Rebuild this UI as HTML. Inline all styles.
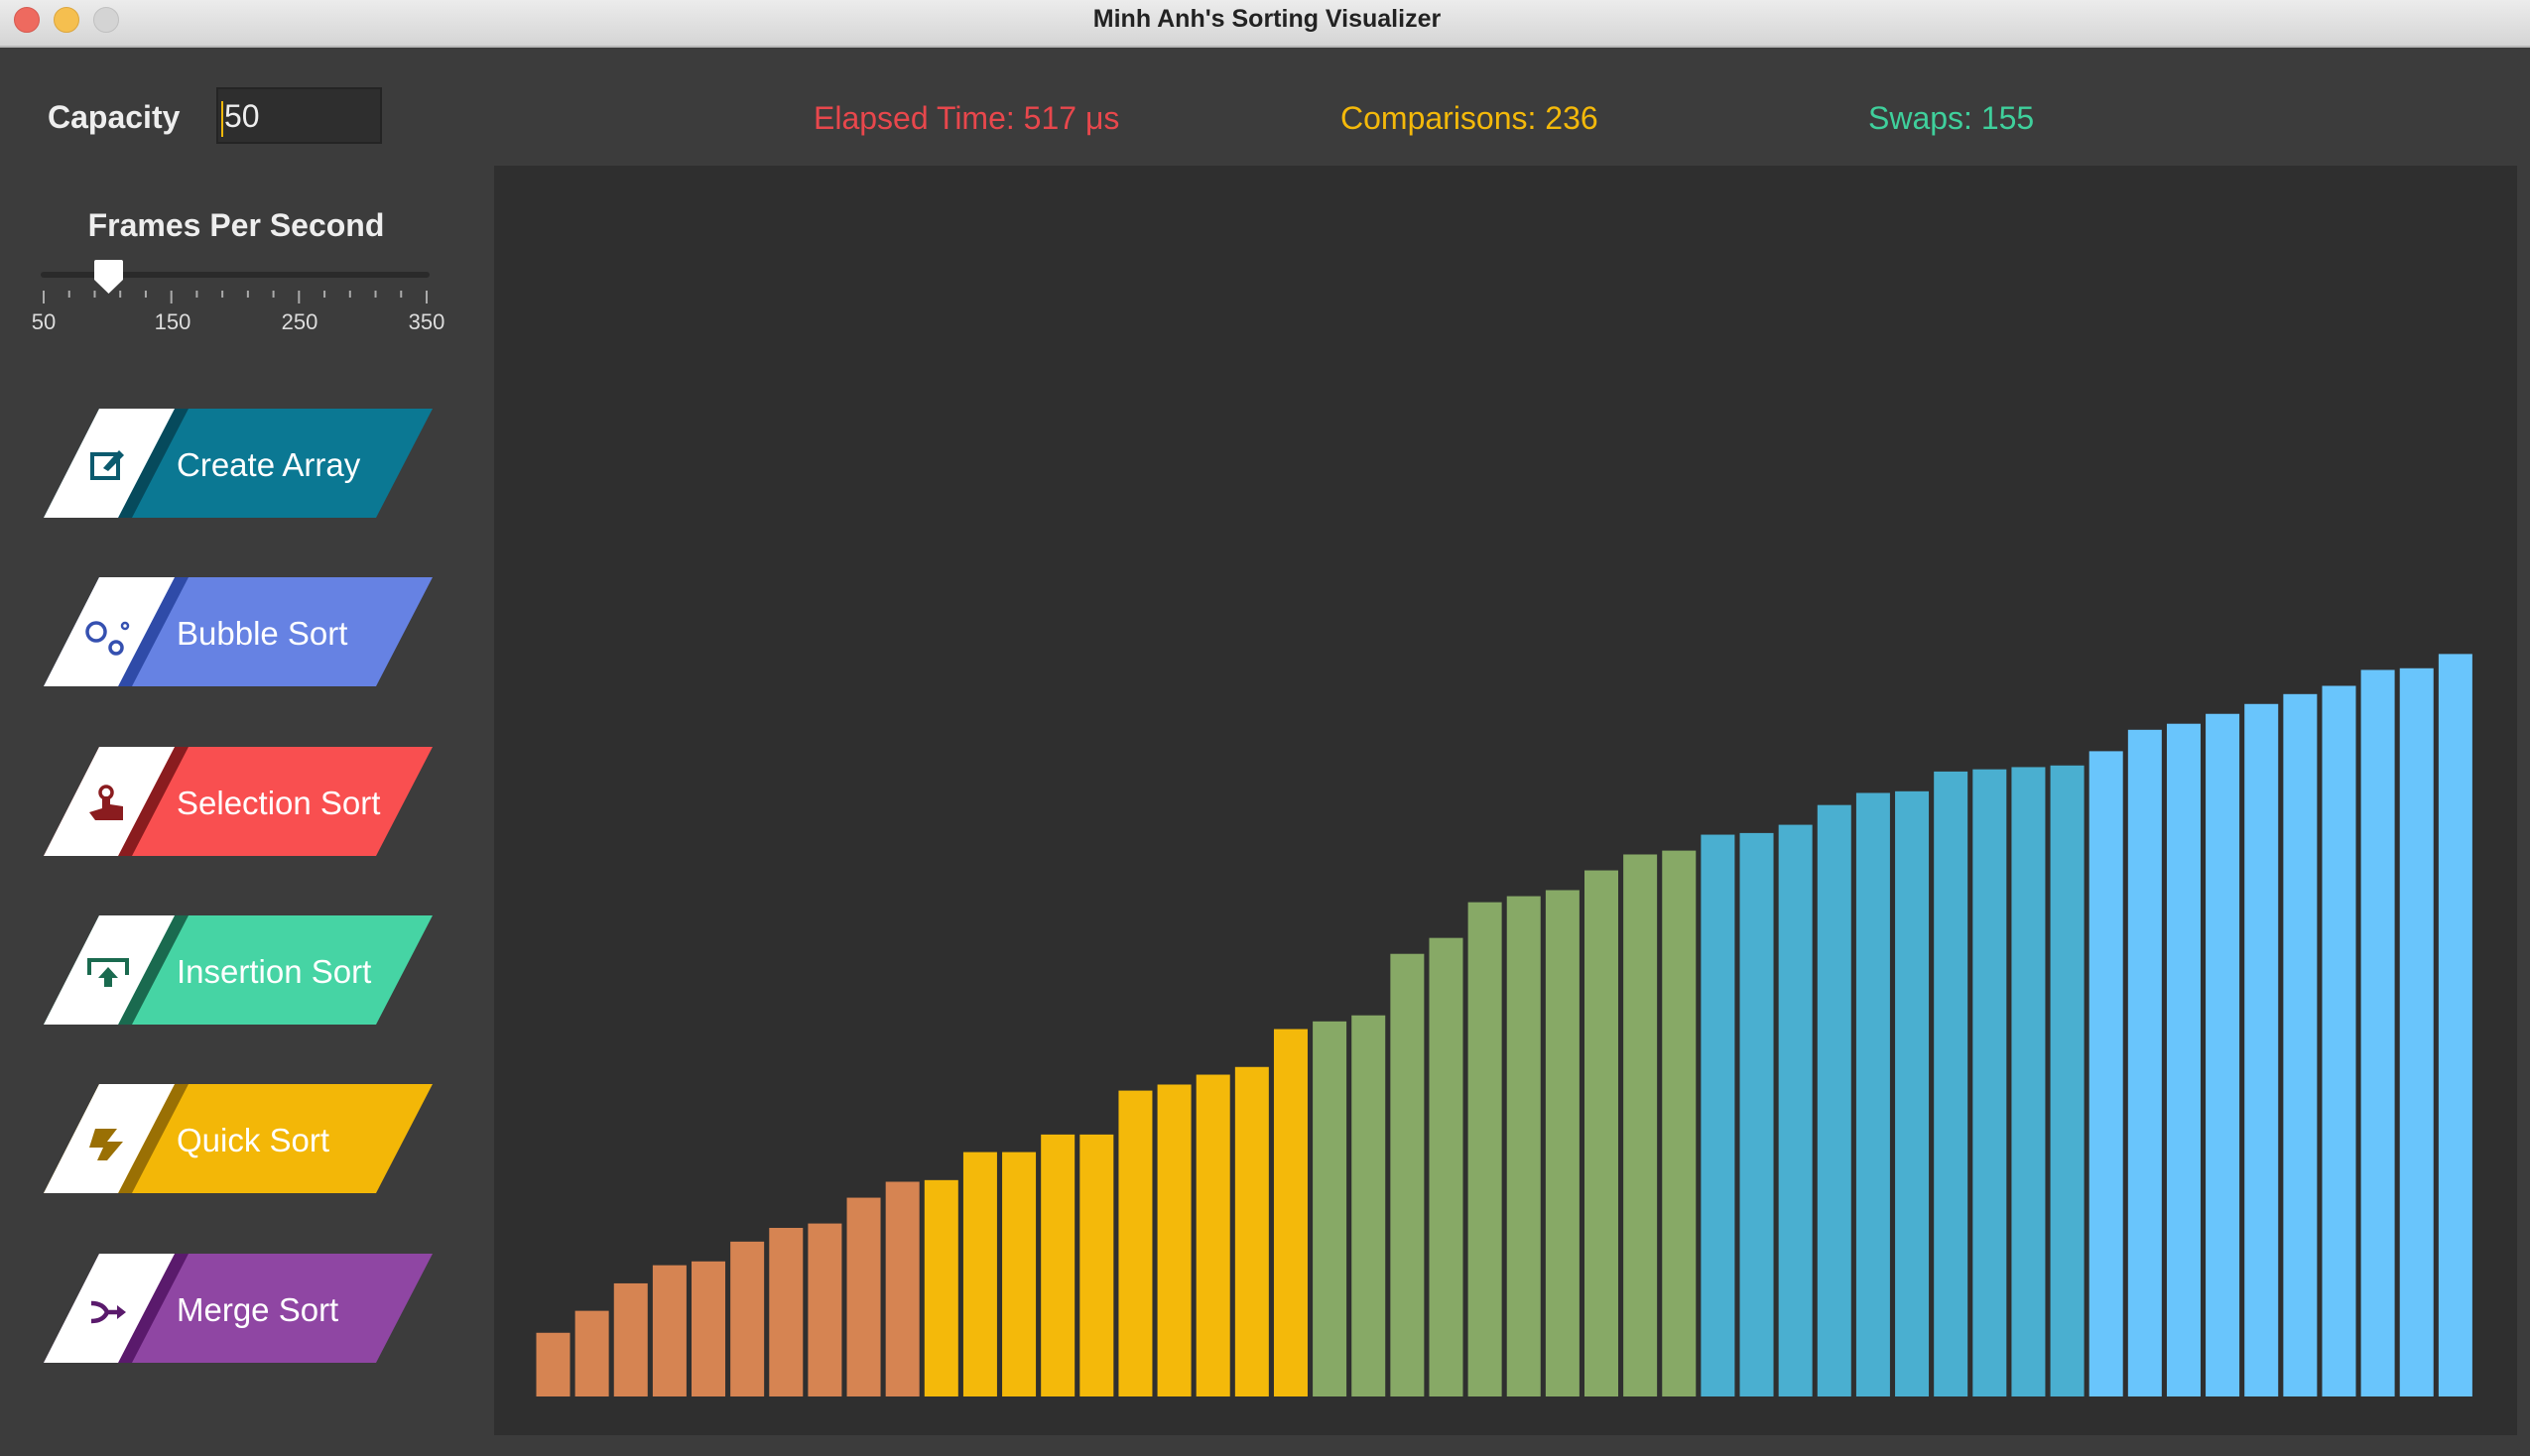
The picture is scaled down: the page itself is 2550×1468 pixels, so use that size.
<!DOCTYPE html>
<html><head><meta charset="utf-8"><style>
body{margin:0;width:2550px;height:1468px;background:#3c3c3c;overflow:hidden;font-family:"Liberation Sans",sans-serif;position:relative}
.abs{position:absolute}
</style></head><body>
<div class="abs" style="left:0;top:0;width:2550px;height:46px;background:linear-gradient(#ececec,#d5d5d5);border-bottom:2px solid #b8b8b8"></div>
<div class="abs" style="left:14px;top:7px;width:24px;height:24px;border-radius:50%;background:#ee6a5f;border:1px solid #d65a50"></div>
<div class="abs" style="left:54px;top:7px;width:24px;height:24px;border-radius:50%;background:#f5bf4f;border:1px solid #dca63e"></div>
<div class="abs" style="left:94px;top:7px;width:24px;height:24px;border-radius:50%;background:#d4d4d4;border:1px solid #c0c0c0"></div>
<div class="abs" style="left:2px;width:2550px;top:5px;text-align:center;font-weight:bold;font-size:25px;color:#222">Minh Anh's Sorting Visualizer</div>

<div class="abs" style="left:48px;top:100px;font-weight:bold;font-size:32px;color:#eee">Capacity</div>
<div class="abs" style="left:218px;top:88px;width:167px;height:57px;background:#2e2e2e;border:2px solid #242424;box-sizing:border-box;color:#eee;font-size:32px;line-height:54px;padding-left:3px"><span style="display:inline-block;width:2px;height:36px;background:#f4b90a;vertical-align:middle;margin-right:1px"></span>50</div>

<div class="abs" style="left:820px;top:101px;font-size:32px;color:#e8474c">Elapsed Time: 517 μs</div>
<div class="abs" style="left:1351px;top:101px;font-size:32px;color:#f4b90a">Comparisons: 236</div>
<div class="abs" style="left:1883px;top:101px;font-size:32px;color:#3fd09c">Swaps: 155</div>

<div class="abs" style="left:0;width:476px;top:209px;text-align:center;font-weight:bold;font-size:32px;color:#eee">Frames Per Second</div>
<svg class="abs" style="left:0;top:250px" width="480" height="100">
<line x1="44" y1="27" x2="430" y2="27" stroke="#2a2a2a" stroke-width="6" stroke-linecap="round"/>
<g id="ticks" stroke="#aaa" stroke-width="2"></g>
<path d="M95 14 Q95 12 97 12 L122 12 Q124 12 124 14 L124 32 L109.5 46 L95 32 Z" fill="#fff"/>
<g font-size="22" fill="#ddd" text-anchor="middle" font-family="Liberation Sans">
<text x="44" y="82">50</text><text x="174" y="82">150</text><text x="302" y="82">250</text><text x="430" y="82">350</text></g>
</svg>

<div id="btns"></div>

<div class="abs" style="left:498px;top:167px;width:2039px;height:1280px;background:#2f2f2f"></div>
<svg class="abs" id="chart" style="left:0;top:0" width="2550" height="1468"></svg>

<script>
const values=[116,156,206,239,246,282,307,315,362,391,394,445,445,477,477,557,568,586,600,669,683,694,806,835,900,911,922,958,987,994,1023,1026,1041,1077,1099,1102,1138,1142,1146,1149,1175,1214,1225,1243,1261,1279,1294,1323,1326,1352];
const groupColors=["#d68452","#f4b90a","#87a966","#4aafd0","#69c5fc"];
const groupSize=10;
const ns="http://www.w3.org/2000/svg";
const chart=document.getElementById('chart');
const x0=540.5, pitch=39.13, barW=34, baseY=1408;
function xPos(i){return x0+i*pitch;}
function yLen(v){return v/1.806;}
values.forEach((v,i)=>{
 const r=document.createElementNS(ns,'rect');
 r.setAttribute('x',xPos(i));r.setAttribute('width',barW);
 r.setAttribute('y',baseY-yLen(v));r.setAttribute('height',yLen(v));
 r.setAttribute('fill',groupColors[Math.floor(i/groupSize)]);
 
 
 chart.appendChild(r);
});
const tg=document.getElementById('ticks');
for(let k=0;k<=15;k++){
 const x=44+k*(386/15);const major=k%5==0;
 const l=document.createElementNS(ns,'line');
 l.setAttribute('x1',x);l.setAttribute('x2',x);l.setAttribute('y1',43);l.setAttribute('y2',major?56:50);
 tg.appendChild(l);
}
const btnLabels=["Create Array","Bubble Sort","Selection Sort","Insertion Sort","Quick Sort","Merge Sort"];
const btnColors=["#0b7893","#6682e3","#f94f50","#46d4a4","#f3b707","#8f46a3"];
const btnDark=["#064a5c","#2f4ba8","#8a1c1f","#1a6a4f","#9a7004","#5a1a6c"];
const icons=[
 '<rect x="93" y="46" width="26" height="24" fill="none" stroke="#0b5a6e" stroke-width="4"/><path d="M104 60 L120 42 L125 47 L109 63 Z" fill="#0b5a6e"/>',
 '<circle cx="97" cy="55" r="9" fill="none" stroke="#3550b0" stroke-width="3.5"/><circle cx="117" cy="71" r="6" fill="none" stroke="#3550b0" stroke-width="3.5"/><circle cx="126" cy="49" r="3" fill="none" stroke="#3550b0" stroke-width="2.5"/>',
 '<circle cx="107" cy="46" r="6" fill="none" stroke="#8a1c1f" stroke-width="3.5"/><path d="M103 50 L111 50 L111 58 L124 60 L124 74 L96 74 L90 66 L103 62 Z" fill="#8a1c1f"/>',
 '<path d="M90 60 L90 45 L128 45 L128 60" fill="none" stroke="#1a6a4f" stroke-width="4"/><path d="M109 52 L119 63 L113 63 L113 72 L105 72 L105 63 L99 63 Z" fill="#1a6a4f"/>',
 '<path d="M96 45 L118 45 L108 58 L124 58 L108 77 L98 77 L104 64 L90 64 Z" fill="#9a7004"/>',
 '<path d="M92 50 Q104 50 108 59 Q104 68 92 68 M108 59 L124 59" fill="none" stroke="#5a1a6c" stroke-width="4.5"/><path d="M118 52 L127 59 L118 66 Z" fill="#5a1a6c"/>'
];
const holder=document.getElementById('btns');
btnLabels.forEach((t,i)=>{
 const top=412+i*170.3;
 const s=document.createElementNS(ns,'svg');
 s.setAttribute('class','abs');s.setAttribute('width',480);s.setAttribute('height',112);
 s.style.left='0px';s.style.top=top+'px';
 
 
 s.innerHTML=`<polygon points="100,0 436,0 379,110 44,110" fill="${btnColors[i]}"/>
<polygon points="176,0 190,0 133,110 119,110" fill="${btnDark[i]}"/>
<polygon points="100,0 176,0 119,110 44,110" fill="#fff"/>
${icons[i]}
<text x="178" y="68" font-size="33" fill="#fff" font-family="Liberation Sans">${t}</text>`;
 holder.appendChild(s);
});
</script>
</body></html>
